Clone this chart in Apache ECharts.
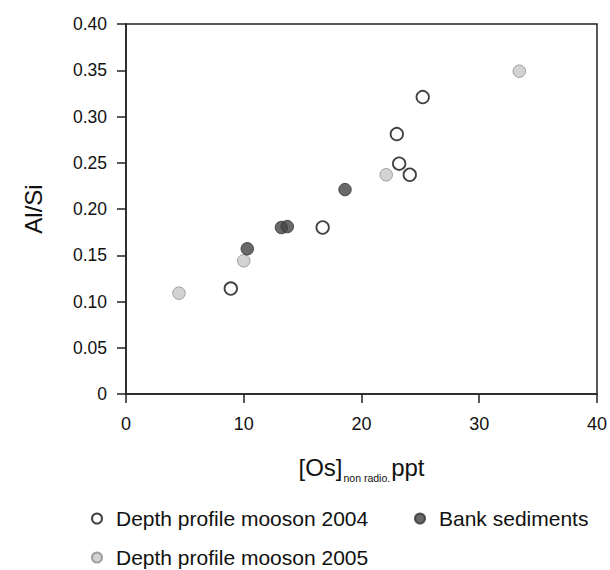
<!DOCTYPE html>
<html>
<head>
<meta charset="utf-8">
<script src="https://cdn.jsdelivr.net/npm/echarts@6/dist/echarts.min.js"></script>
<style>
html,body{margin:0;padding:0;background:#fff;}
#chart{width:610px;height:570px;}
</style>
</head>
<body>
<div id="chart"></div>
<script>
// Data: [Os] non radio. (ppt), Al/Si
const seriesNames = ['Depth profile mooson 2004', 'Depth profile mooson 2005', 'Bank sediments'];
const os2004 = [8.9, 16.7, 23.0, 23.2, 24.1, 25.2];
const alsi2004 = [0.114, 0.180, 0.281, 0.249, 0.237, 0.321];
const os2005 = [4.5, 10.0, 22.1, 33.4];
const alsi2005 = [0.109, 0.144, 0.237, 0.349];
const osBank = [10.3, 13.2, 13.7, 18.6];
const alsiBank = [0.157, 0.180, 0.181, 0.221];
const xTickLabels = ['0', '10', '20', '30', '40'];
const yTickLabels = ['0', '0.05', '0.10', '0.15', '0.20', '0.25', '0.30', '0.35', '0.40'];

const FONT = '"Liberation Sans", Arial, sans-serif';

function pairs(xs, ys) { return xs.map((x, i) => [x, ys[i]]); }

const chart = echarts.init(document.getElementById('chart'), null, {renderer: 'svg'});

const styles = [
  {color: '#ffffff', borderColor: '#111111', borderWidth: 1.8},
  {color: '#c8c8c8', borderColor: '#8c8c8c', borderWidth: 1},
  {color: '#444444', borderColor: '#333333', borderWidth: 1}
];
const dataSets = [pairs(os2004, alsi2004), pairs(os2005, alsi2005), pairs(osBank, alsiBank)];

function legendAt(name, left, top) {
  return {
    data: [name], left: left, top: top, orient: 'horizontal',
    icon: 'circle', itemWidth: 28, itemHeight: 10, itemGap: 0, padding: 0,
    selectedMode: false,
    textStyle: {fontFamily: FONT, fontSize: 21, color: '#111'}
  };
}

chart.setOption({
  animation: false,
  backgroundColor: '#fff',
  grid: {left: 126, right: 10, top: 24, bottom: 176, show: true, borderColor: '#222', borderWidth: 1.5, backgroundColor: 'transparent'},
  legend: [
    legendAt(seriesNames[0], 91, 508),
    legendAt(seriesNames[2], 414, 508),
    legendAt(seriesNames[1], 91, 547)
  ],
  xAxis: {
    type: 'value', min: 0, max: 40, interval: 10,
    splitLine: {show: false},
    axisLine: {show: true, onZero: false, lineStyle: {color: '#222', width: 1.5}},
    axisTick: {show: true, inside: false, length: 9, lineStyle: {color: '#222', width: 1.5}},
    axisLabel: {margin: 21, fontFamily: FONT, fontSize: 18, color: '#111',
      formatter: function (v) { return xTickLabels[Math.round(v / 10)]; }},
    name: '{m|[Os]}{s|non radio.}{m|ppt}',
    nameLocation: 'middle', nameGap: 61,
    nameTextStyle: {
      rich: {
        m: {fontFamily: FONT, fontSize: 24, color: '#111', verticalAlign: 'bottom'},
        s: {fontFamily: FONT, fontSize: 10.5, color: '#111', verticalAlign: 'bottom', padding: [0, 1, -4, 1]}
      }
    }
  },
  yAxis: {
    type: 'value', min: 0, max: 0.4, interval: 0.05,
    splitLine: {show: false},
    axisLine: {show: true, onZero: false, lineStyle: {color: '#222', width: 1.5}},
    axisTick: {show: true, inside: false, length: 9, lineStyle: {color: '#222', width: 1.5}},
    axisLabel: {margin: 19, fontFamily: FONT, fontSize: 17.5, color: '#111',
      formatter: function (v) { return yTickLabels[Math.round(v / 0.05)]; }},
    name: 'Al/Si', nameLocation: 'middle', nameGap: 81, nameRotate: 90,
    nameTextStyle: {fontFamily: FONT, fontSize: 24, color: '#111'}
  },
  series: seriesNames.map((n, i) => ({
    name: n, type: 'scatter', symbol: 'circle', symbolSize: 12.5,
    itemStyle: styles[i], data: dataSets[i], z: 2 + i
  }))
});
</script>
</body>
</html>
